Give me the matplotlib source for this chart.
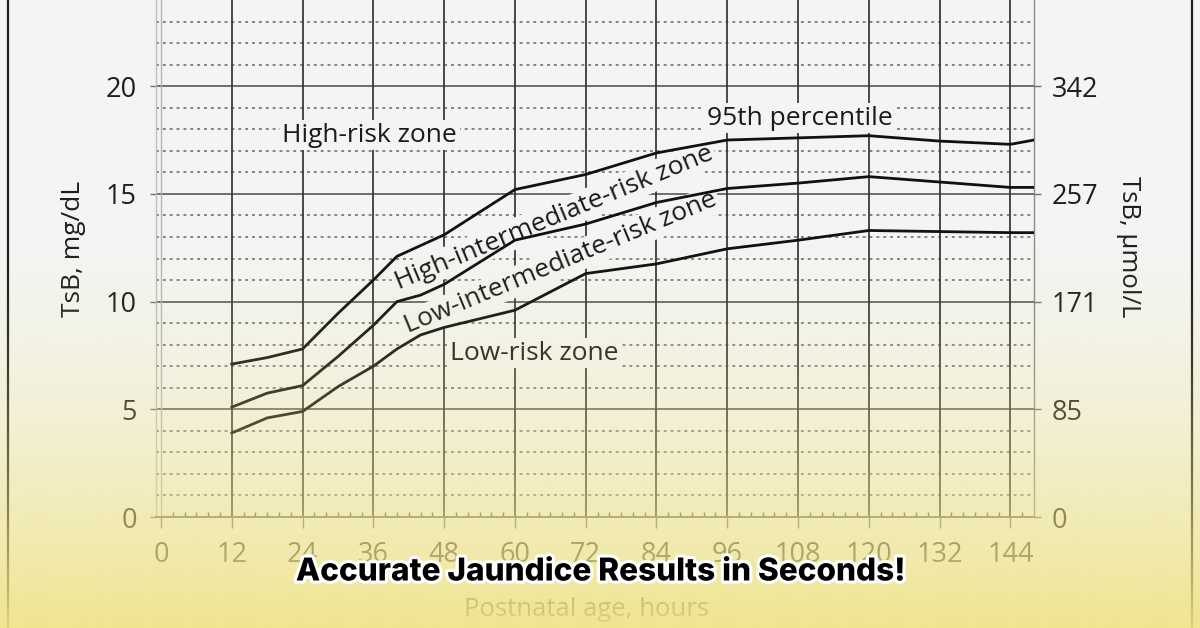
import numpy as np
import matplotlib
matplotlib.use("Agg")
import matplotlib.pyplot as plt
import matplotlib.patheffects as pe
from matplotlib.lines import Line2D

plt.rcParams['font.family'] = ['Open Sans', 'DejaVu Sans']

# ---------------- data ----------------
hours = [12, 18, 24, 30, 36, 40, 44, 48, 60, 72, 84, 96, 108, 120, 132, 144, 148]
p95 = [7.1, 7.4, 7.8, 9.45, 11.0, 12.1, 12.6, 13.1, 15.2, 15.9, 16.9, 17.5, 17.6, 17.7, 17.45, 17.3, 17.5]
p75 = [5.1, 5.75, 6.1, 7.45, 8.9, 10.0, 10.3, 10.8, 12.85, 13.6, 14.6, 15.25, 15.5, 15.8, 15.55, 15.3, 15.3]
p40 = [3.9, 4.6, 4.9, 6.05, 7.0, 7.8, 8.45, 8.8, 9.6, 11.3, 11.75, 12.45, 12.85, 13.3, 13.25, 13.2, 13.2]

x_ticks = [0, 12, 24, 36, 48, 60, 72, 84, 96, 108, 120, 132, 144]
y_ticks = [0, 5, 10, 15, 20]
umol_labels = ['0', '85', '171', '257', '342']

zone_labels = ['High-risk zone', '95th percentile', 'High-intermediate-risk zone',
               'Low-intermediate-risk zone', 'Low-risk zone']

caption = 'Accurate Jaundice Results in Seconds!'

# ---------------- figure ----------------
W, H = 1200, 628
BG = '#f4f4f2'
fig = plt.figure(figsize=(W / 100, H / 100), dpi=100)
fig.patch.set_facecolor(BG)

ax = fig.add_axes([156.3 / W, 111 / H, 877.7 / W, 517 / H])
ax.set_facecolor(BG)
ax.set_xlim(-0.8, 148)
ax.set_ylim(0, 24)

# grid
for v in range(1, 24):
    if v % 5:
        ax.axhline(v, color='#7a7a7a', lw=1.3, ls=(0, (1.6, 2.2)), zorder=1)
    else:
        ax.axhline(v, color='#6e6e6e', lw=1.4, zorder=1)
for xv in x_ticks[1:]:
    ax.axvline(xv, color='#3a3a3a', lw=1.3, zorder=1)
ax.axvline(0, color='#b5b5b5', lw=1.0, zorder=1)

# curves
for series in (p95, p75, p40):
    ax.plot(hours, series, color='#111111', lw=2.0, zorder=3, solid_joinstyle='round')

# zone labels
tkw = dict(fontsize=19, color='#1a1a1a', ha='center', va='center', zorder=2.5,
           bbox=dict(boxstyle='square,pad=0.1', fc=BG, ec='none'))
ax.text(35.4, 17.73, zone_labels[0], **tkw)
ax.text(108.3, 18.52, zone_labels[1], **tkw)
ax.text(66.6, 13.9, zone_labels[2], rotation=22.5, rotation_mode='anchor', **tkw)
ax.text(67.8, 11.8, zone_labels[3], rotation=22.5, rotation_mode='anchor', **tkw)
ax.text(63.2, 7.61, zone_labels[4], **tkw)

# spines & ticks
ax.spines['top'].set_visible(False)
ax.spines['left'].set_color('#bdbdbd')
ax.spines['left'].set_linewidth(1.0)
ax.spines['right'].set_color('#8a8a8a')
ax.spines['right'].set_linewidth(1.0)
ax.spines['bottom'].set_color('#6e6e6e')
ax.spines['bottom'].set_linewidth(1.4)

ax.set_xticks(x_ticks)
ax.set_xticks(np.arange(2, 148, 2), minor=True)
ax.set_yticks(y_ticks)
ax.tick_params(axis='x', which='major', direction='out', length=8, width=1.0,
               color='#6e6e6e', pad=9, labelsize=19.5, labelcolor='#333333')
ax.tick_params(axis='x', which='minor', direction='in', length=3.5, width=1.0,
               color='#555555')
ax.tick_params(axis='y', which='major', direction='out', length=4, width=1.0,
               color='#6e6e6e', pad=10, labelsize=19.5, labelcolor='#1e1e1e')

ax2 = ax.twinx()
ax2.set_ylim(0, 24)
ax2.set_yticks(y_ticks, labels=umol_labels)
for s in ax2.spines.values():
    s.set_visible(False)
ax2.tick_params(axis='y', direction='out', length=5, width=1.0, color='#6e6e6e',
                pad=8, labelsize=19.5, labelcolor='#1e1e1e')

# axis titles
fig.text(74 / W, 1 - 249 / H, 'TsB, mg/dL', rotation=90, ha='center', va='center',
         fontsize=19, color='#1e1e1e')
fig.text(1128 / W, 1 - 247 / H, 'TsB, µmol/L', rotation=270, ha='center', va='center',
         fontsize=18.5, color='#1e1e1e')
fig.text(587 / W, 1 - 610 / H, 'Postnatal age, hours', ha='center', va='center',
         fontsize=18.5, color='#333333')

# page frame lines
fig.add_artist(Line2D([8 / W, 8 / W], [0, 1], color='#1e1e1e', lw=1.6, zorder=5))
fig.add_artist(Line2D([1191.5 / W, 1191.5 / W], [0, 1], color='#1e1e1e', lw=1.6, zorder=5))

# yellow gradient overlay
rows = np.arange(H)
alpha = np.clip((rows - 230) / (H - 230), 0, 1) ** 1.6 * 0.92
img = np.zeros((H, 1, 4))
img[:, 0, 0] = 240 / 255
img[:, 0, 1] = 228 / 255
img[:, 0, 2] = 135 / 255
img[:, 0, 3] = alpha
ov = fig.add_axes([0, 0, 1, 1], zorder=10)
ov.imshow(img, aspect='auto', extent=[0, 1, 0, 1], origin='upper', interpolation='bilinear')
ov.set_xlim(0, 1)
ov.set_ylim(0, 1)
ov.axis('off')
ov.patch.set_visible(False)

# caption
fig.text(0.5, 1 - 572 / H, caption, ha='center', va='center', fontsize=22.7,
         family=['Inter', 'DejaVu Sans'], fontweight='heavy', color='black', zorder=20,
         path_effects=[pe.withStroke(linewidth=4.5, foreground='white')])

fig.savefig('out.png', dpi=100, facecolor=fig.get_facecolor())
